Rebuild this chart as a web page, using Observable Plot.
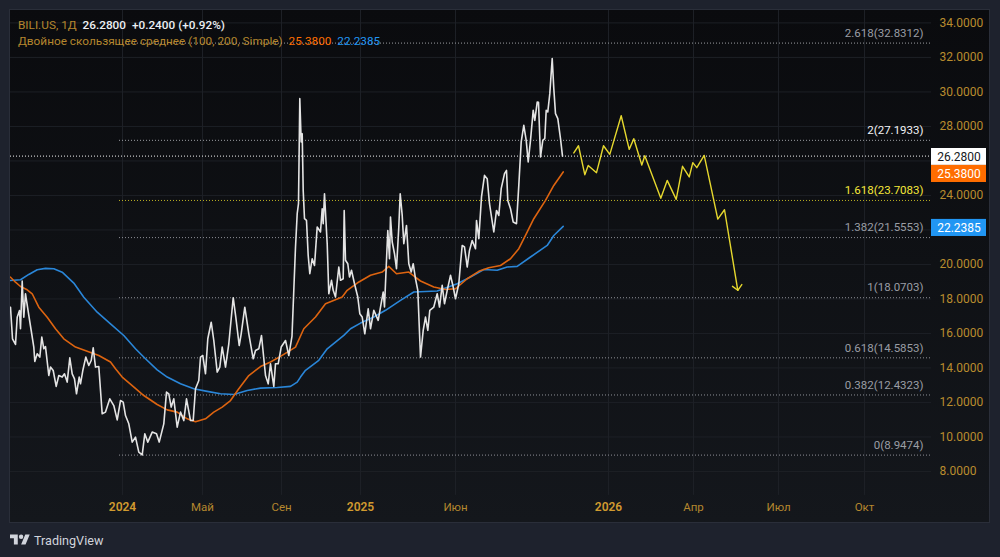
<!DOCTYPE html>
<html>
<head>
<meta charset="utf-8">
<script src="https://cdn.jsdelivr.net/npm/d3@7"></script>
<script src="https://cdn.jsdelivr.net/npm/@observablehq/plot@0.6"></script>
<style>
html,body{margin:0;padding:0;background:#1e222d;width:1000px;height:557px;overflow:hidden;font-family:Roboto,sans-serif}
#panel{position:absolute;left:9px;top:9px;width:979px;height:512px;border:1px solid #2a2e39;background:linear-gradient(#0a0b0e,#14171c)}
#chart{position:absolute;left:0;top:0}
#legend{position:absolute;left:18px;top:16.5px;font-size:11.8px;line-height:16px;color:#b5872e;white-space:pre}
#legend .w{color:#eceff3;font-weight:500}
#legend .o{color:#ff6d00}
#legend .b{color:#2196f3}
#brand{position:absolute;left:10px;top:532px;display:flex;align-items:center;gap:4px;color:#d1d4dc;font-size:12.6px;font-weight:400}
</style>
</head>
<body>
<div id="panel"></div>
<div id="chart"></div>
<div id="legend"><div>BILI.US, 1Д  <span class="w">26.2800</span>  <span class="w">+0.2400 (+0.92%)</span></div><div>Двойное скользящее среднее (100, 200, Simple)  <span class="o">25.3800</span>  <span class="b">22.2385</span></div></div>
<div id="brand"><svg width="20" height="16" viewBox="0 0 36 28"><path fill="#d1d4dc" d="M14 22H7V11H0V4h14v18zM28 22h-8l7.5-18h8L28 22z"/><circle fill="#d1d4dc" cx="20" cy="8" r="4"/></svg><span>TradingView</span></div>
<script>
// [bar offset from the first bar of 2024, price]
const priceSeries = [[-112,17.52],[-110,15.69],[-107,15.36],[-105.3,16.94],[-103,17.33],[-102,16.27],[-100.3,19.03],[-98.7,16.94],[-97,18.3],[-93.7,17.04],[-91.3,16.17],[-88.7,15.21],[-87.7,14.37],[-85.3,14.82],[-82.7,14.63],[-80.7,15.79],[-78.7,15.11],[-77,15.24],[-73.7,13.56],[-72,14.05],[-69.3,13.85],[-66.3,12.93],[-63.7,13.56],[-60.3,13.47],[-58,13.66],[-55.3,13.18],[-52.7,14.59],[-50.3,13.66],[-48,13.37],[-46,12.5],[-43.3,13.47],[-42,13.08],[-39.7,13.85],[-36.7,14.63],[-33.7,14.14],[-31.3,14.43],[-29.3,15.17],[-27,14.05],[-23.7,14.08],[-20.3,11.34],[-17,11.44],[-12.7,12.21],[-8.7,11.82],[-5.3,10.99],[-2,12.11],[0.7,12.02],[3,11.24],[6.3,10.76],[9.7,9.7],[13,9.99],[16.3,9.12],[19.7,8.96],[22.3,10.18],[25.3,9.7],[29.7,10.28],[34,10.18],[36.7,9.7],[41.3,10.76],[44,12.6],[46.3,12.5],[48.7,11.73],[51.3,12.21],[54.7,10.57],[58,11.44],[61.3,10.95],[64,12.21],[68,10.95],[70.7,10.95],[73,12.79],[76.3,13.27],[78,14.63],[80.3,14.72],[83,13.66],[85.3,15.69],[88.7,16.65],[91.3,15.59],[94.7,13.76],[97.3,14.05],[99.7,15.21],[103,14.05],[106.3,15.4],[110.7,18.07],[113.3,16.94],[116.7,15.3],[118.7,15.98],[122.3,17.52],[126.3,15.98],[130.7,14.53],[133,15.01],[136.3,15.11],[139,15.88],[143,13.56],[145.7,13.08],[148,14.24],[151.3,12.93],[153,14.24],[155.7,14.24],[158.7,15.21],[163,15.59],[166.3,14.72],[169.5,15.85],[171.3,18.5],[173,21],[174.7,22.94],[176,23.52],[177.3,29.61],[178.7,27.1],[179.7,27.58],[180.7,24.29],[182,22.65],[184,22.55],[185.7,20.52],[187.3,19.46],[189.7,20.33],[192,19.94],[194.7,22.17],[198,21.88],[199.7,23.23],[200.7,22.36],[202,24.1],[204.7,21.2],[206.3,18.3],[209,19.08],[210.7,18.5],[213,18.11],[216.3,19.85],[218,19.08],[220.7,19.17],[221.7,23.13],[223,20.24],[225.3,20.04],[227,19.27],[229,19.66],[232,18.88],[235.3,18.11],[237.3,17.14],[239.7,16.95],[242.3,15.98],[245.7,17.43],[248,16.27],[251.3,17.34],[255.7,16.76],[258,17.53],[260.7,18.4],[262,17.53],[263.7,19.85],[265.3,21.97],[267,20.33],[268,22.75],[269.7,21.3],[272,20.62],[274,19.75],[276.3,22.17],[277.7,24.1],[279.7,22.84],[281.3,21.2],[284,22.26],[286.3,20.04],[288.7,19.56],[290.7,20.04],[293,19.17],[295.3,18.5],[298,14.63],[300.7,16.18],[303,16.95],[305.3,16.18],[307.3,17.34],[311.3,17.53],[314.7,18.3],[317,17.53],[319.7,18.79],[322,17.72],[324.7,18.5],[328,19.37],[330.7,18.69],[333,18.01],[336.3,18.88],[338,20.04],[339.7,21.1],[342,21.01],[344.7,19.85],[347,20.81],[349.7,21.39],[353,20.91],[354,22.55],[356.3,21.49],[359,23.91],[362,25.16],[364.7,24.97],[367,23.52],[369,22.75],[371.3,21.88],[374,23.13],[376.3,22.84],[378.7,24.39],[382,25.26],[384,25.45],[385.3,23.71],[388,23.23],[390.7,22.46],[394,22.36],[396.3,24.58],[398.7,27.1],[401.3,28.06],[403.7,27.19],[405.7,25.94],[408,27.19],[410.7,28.93],[412.3,28.35],[414.7,29.41],[416,29.4],[418,26.23],[420.3,27.19],[422.3,27.3],[423.7,28.93],[425.3,28.84],[427.3,29.9],[429.7,31.93],[431.3,30.19],[433,28.74],[435.3,28.45],[438,27.29],[440,26.28]];
const fastAverage = [[-112,19.26],[-107,18.97],[-102,18.72],[-95.3,18.53],[-90.3,18.3],[-83.7,17.52],[-75.3,16.94],[-67,16.27],[-58.7,15.69],[-47,15.21],[-35.3,14.97],[-23.7,14.72],[-12,14.34],[-7,13.95],[-0.3,13.47],[9.7,12.98],[21.3,12.4],[34.7,11.88],[44.7,11.57],[54.7,11.44],[64.7,11.05],[73,10.88],[83,11.05],[91.3,11.44],[99.7,11.73],[108,12.11],[116.3,12.79],[126.3,13.56],[138,14.08],[148,14.34],[158,14.67],[173,15.21],[181.3,16.27],[193,16.95],[203,17.72],[219.7,18.11],[224.7,18.5],[234.7,18.92],[248,19.37],[259.7,19.56],[266.3,19.89],[274,19.46],[286.3,19.56],[298,19.04],[311.3,18.69],[323,18.55],[333,18.59],[344.7,19.17],[356.3,19.6],[366.3,19.81],[378,19.94],[388,20.33],[396.3,20.91],[403,21.68],[411.3,22.65],[423,23.71],[431.3,24.58],[440.7,25.36]];
const slowAverage = [[-112,19.07],[-102,19.11],[-93.7,19.42],[-85.3,19.69],[-77,19.77],[-68.7,19.75],[-60.3,19.55],[-48.7,18.92],[-38.7,18.1],[-25.3,17.23],[-12,16.56],[1.3,15.88],[13,15.11],[23,14.53],[34.7,13.89],[44.7,13.47],[58,13.08],[71.3,12.79],[84.7,12.64],[98,12.5],[111.3,12.46],[124.7,12.69],[138,12.83],[154.7,12.87],[168,12.93],[174.7,13.18],[178,13.47],[183,13.86],[196.3,14.44],[204.7,15.11],[221.3,15.89],[228,16.27],[238,16.6],[251.3,16.95],[263,17.34],[278,17.92],[291.3,18.4],[314.7,18.46],[334.7,18.88],[348,19.27],[361.3,19.71],[374.7,19.66],[384.7,19.85],[394.7,19.89],[408,20.43],[424.7,21.1],[431.3,21.68],[440.7,22.21]];
const projection = [[451.3,26.46],[456,26.88],[462.3,25.2],[465.7,25.74],[474,25.32],[481,26.88],[487.3,26.38],[498.7,28.62],[506.7,26.67],[511.3,27.29],[519.3,25.76],[522.3,26.3],[538.3,23.83],[544.7,24.87],[553.7,23.77],[560,25.69],[566.7,25.07],[570.3,25.9],[574.3,25.61],[581.7,26.32],[595.3,22.63],[602,23.17],[615.3,18.5]];
const projectionArrow = [[610,18.73],[615.3,18.5],[619.3,18.83]];

const fibRatios = ["2.618","2","1.618","1.382","1","0.618","0.382","0"];
const fibPrices = [32.8312,27.1933,23.7083,21.5553,18.0703,14.5853,12.4323,8.9474];
const fibColors = ["#b4b6bb","#b4b6bb","#d8cb26","#a3a5ab","#a3a5ab","#a3a5ab","#a3a5ab","#a3a5ab"];
const fibTextColors = ["#9a9da4","#f2f3f5","#f5e83a","#9a9da4","#9a9da4","#9a9da4","#9a9da4","#9a9da4"];

const yTicks = [8,10,12,14,16,18,20,22,24,26,28,30,32,34];
const hiddenYTicks = [22,26];
const yearBars = [0,238,486];
const yearLabels = ["2024","2025","2026"];
const monthBars = [80,159,333,571,656,742];
const monthLabels = ["Май","Сен","Июн","Апр","Июл","Окт"];

const badgeLabels = ["26.2800","25.3800","22.2385"];
const badgeTop = [26.72,25.74,22.61];
const badgeBottom = [25.74,24.75,21.62];
const badgeFill = ["#ffffff","#ff6d00","#2196f3"];
const badgeText = ["#131722","#ffffff","#ffffff"];

const lastPrice = 26.28;
const xDomain = [-112,867];
const gridEnd = 809;
const fibStart = -3;
const axisCenter = 836.5;
const fontFamily = "Roboto, sans-serif";

const fib = fibRatios.map((r,i)=>({r,p:fibPrices[i],c:fibColors[i],t:fibTextColors[i],label:`${r}(${fibPrices[i].toFixed(4)})`}));
const badges = badgeLabels.map((l,i)=>({l,y1:badgeTop[i],y2:badgeBottom[i],f:badgeFill[i],t:badgeText[i],mid:(badgeTop[i]+badgeBottom[i])/2}));
const sx = d=>d[0], sy = d=>d[1];
const yearMap = new Map(yearBars.map((b,i)=>[b,yearLabels[i]]));
const monthMap = new Map(monthBars.map((b,i)=>[b,monthLabels[i]]));

const chart = Plot.plot({
  width:1000,height:557,
  marginLeft:10,marginRight:11,marginTop:10,marginBottom:35,
  style:{background:"transparent",fontFamily,overflow:"visible"},
  x:{domain:xDomain,axis:null},
  y:{domain:[5.04,34.72],axis:null},
  marks:[
    Plot.ruleY(yTicks,{x1:xDomain[0],x2:gridEnd,stroke:"#1d2026",strokeWidth:1}),
    Plot.ruleX([...yearBars,...monthBars],{y1:6.61,y2:34.72,stroke:"#1d2026",strokeWidth:1}),
    Plot.ruleY(fib,{y:"p",x1:fibStart,x2:gridEnd,stroke:"c",strokeWidth:1,strokeDasharray:"1,2",strokeOpacity:0.85}),
    Plot.ruleY([lastPrice],{x1:xDomain[0],x2:gridEnd,stroke:"#f5f5f5",strokeWidth:1,strokeDasharray:"1,2"}),
    Plot.line(slowAverage,{x:sx,y:sy,stroke:"#2a86d8",strokeWidth:1.6,clip:true}),
    Plot.line(fastAverage,{x:sx,y:sy,stroke:"#dd6410",strokeWidth:1.6,clip:true}),
    Plot.line(priceSeries,{x:sx,y:sy,stroke:"#e4e4e4",strokeWidth:1.6,clip:true}),
    Plot.line(projection,{x:sx,y:sy,stroke:"#e6d82e",strokeWidth:1.4}),
    Plot.line(projectionArrow,{x:sx,y:sy,stroke:"#e6d82e",strokeWidth:1.4}),
    Plot.text(fib,{y:"p",x:gridEnd-8,text:"label",fill:"t",textAnchor:"end",dy:-10,fontSize:11.5,fontWeight:d=>(d.r==="2"||d.r==="1.618")?500:400}),
    Plot.axisY({anchor:"right",ticks:yTicks.filter(t=>!hiddenYTicks.includes(t)),tickSize:0,tickPadding:-50,tickFormat:d3.format(".4f"),fill:"#b98c2e",fontSize:12,label:null}),
    Plot.axisX({anchor:"bottom",ticks:yearBars,tickSize:0,tickPadding:-20,tickFormat:d=>yearMap.get(d),fill:"#d09a2f",fontSize:12,fontWeight:600,label:null}),
    Plot.axisX({anchor:"bottom",ticks:monthBars,tickSize:0,tickPadding:-20,tickFormat:d=>monthMap.get(d),fill:"#b5872e",fontSize:11.5,label:null}),
    Plot.rect(badges,{x1:gridEnd,x2:gridEnd+55,y1:"y1",y2:"y2",fill:"f"}),
    Plot.text(badges,{x:axisCenter,y:"mid",text:"l",fill:"t",fontSize:12})
  ]
});
document.getElementById("chart").appendChild(chart);
</script>
</body>
</html>
